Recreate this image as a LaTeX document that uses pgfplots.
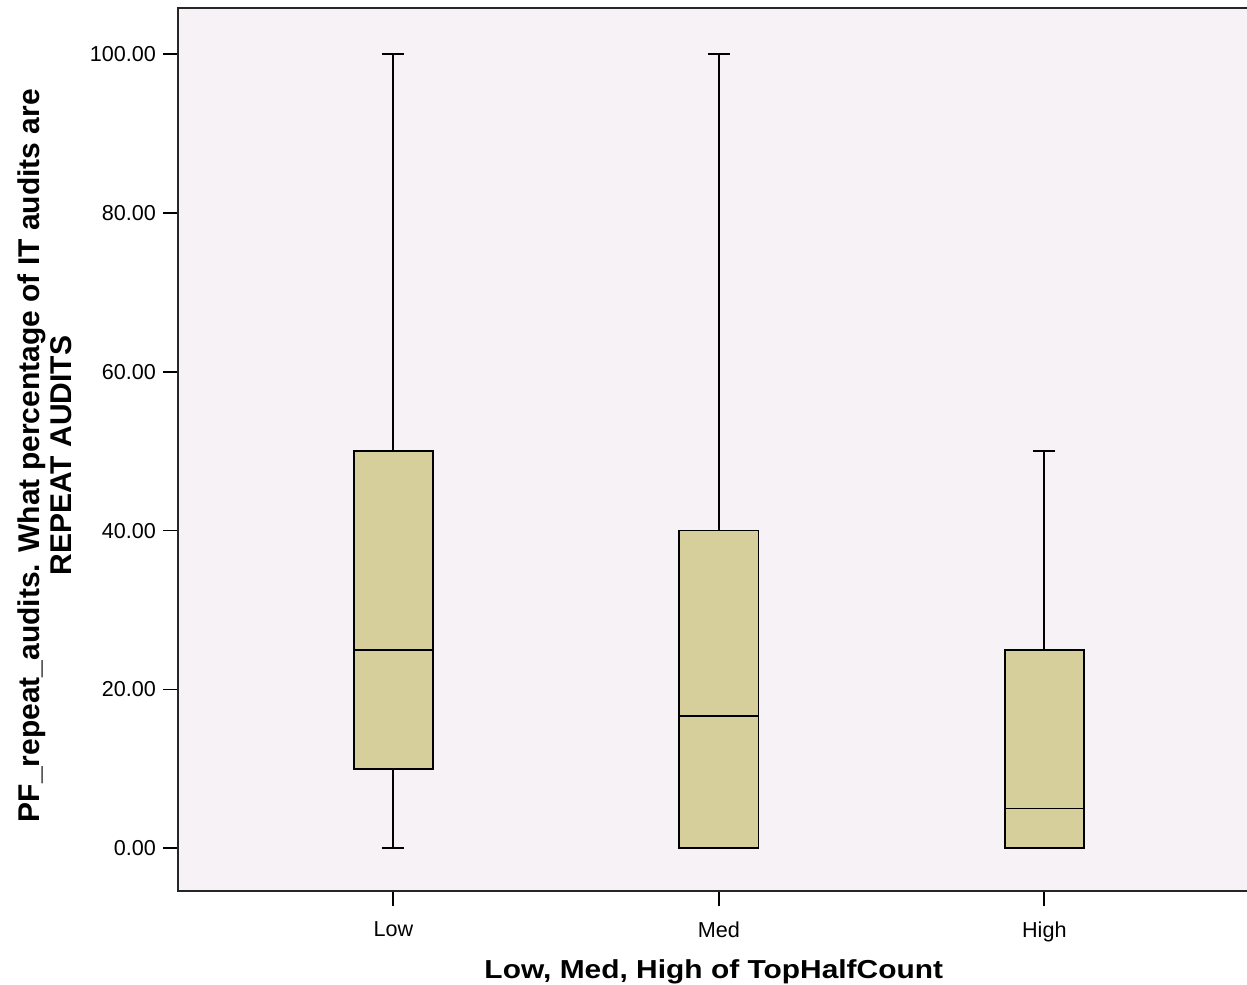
\documentclass[border=0pt]{standalone}
\usepackage{fontspec}
\setmainfont{Liberation Sans}
\usepackage{graphicx}
\usepackage{pgfplots}
\pgfplotsset{compat=1.18}
\usepgfplotslibrary{statistics}
\definecolor{boxfill}{HTML}{D7CF9B}
\definecolor{bgcol}{HTML}{F6F2F6}
\begin{document}
\begin{tikzpicture}
\begin{axis}[
  name=ax,
  scale only axis,
  width=535.5pt, height=441.5pt,
  xmin=0.3385, xmax=3.63,
  ymin=-5.42, ymax=105.8,
  axis background/.style={fill=bgcol},
  axis line style={line width=1pt, black!85},
  xtick={1,2,3},
  xticklabels={Low,Med,High},
  ytick={0,20,40,60,80,100},
  yticklabel style={/pgf/number format/.cd, fixed, fixed zerofill, precision=2},
  /pgf/number format/assume math mode=true,
  tick align=outside,
  major tick length=7.5pt,
  tick style={line width=0.9pt, black},
  xtick pos=bottom, ytick pos=left,
  ticklabel style={font=\fontsize{10.8}{12}\selectfont},
  xticklabel style={yshift=-4pt},
  xlabel={\scalebox{1.15}[1]{\bfseries Low, Med, High of TopHalfCount}},
  ylabel={\bfseries PF\_repeat\_audits. What percentage of IT audits are\\\bfseries REPEAT AUDITS},
  xlabel style={font=\fontsize{13}{15}\selectfont, yshift=-2pt},
  ylabel style={font=\fontsize{15}{16}\selectfont, align=center, yshift=2pt, xshift=-3pt},
  boxplot/draw direction=y,
  boxplot/box extend=0.243,
  boxplot/whisker extend=0.068,
]
\addplot+[boxplot prepared={draw position=1, lower whisker=0, lower quartile=10, median=25, upper quartile=50, upper whisker=100},
  draw=black, fill=boxfill, line width=0.9pt, solid, mark=none] coordinates {};
\addplot+[boxplot prepared={draw position=2, lower whisker=0, lower quartile=0, median=16.67, upper quartile=40, upper whisker=100},
  draw=black, fill=boxfill, line width=0.9pt, solid, mark=none] coordinates {};
\addplot+[boxplot prepared={draw position=3, lower whisker=0, lower quartile=0, median=5, upper quartile=25, upper whisker=50},
  draw=black, fill=boxfill, line width=0.9pt, solid, mark=none] coordinates {};
\end{axis}
\pgfresetboundingbox
\path ([xshift=-89pt,yshift=-46.5pt]ax.south west) rectangle ([xshift=-1.2pt,yshift=4pt]ax.north east);
\end{tikzpicture}
\end{document}
